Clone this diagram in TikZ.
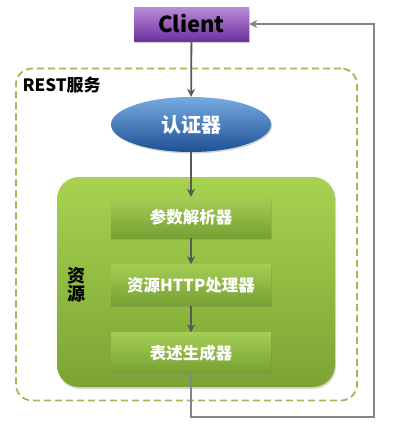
\documentclass[tikz,border=0pt]{standalone}
\usepackage{fontspec}
\setmainfont{Noto Sans CJK SC}
\usetikzlibrary{shapes.geometric,arrows.meta,shadows}
\definecolor{dgreen}{HTML}{9BBB59}
\definecolor{arrowgray}{HTML}{595959}
\definecolor{retgray}{HTML}{858585}
\tikzset{
  flowarrow/.style={draw=arrowgray, line width=1.8pt, -{Stealth[length=8pt,width=8pt]}},
  retline/.style={draw=retgray, line width=1.8pt, -{Stealth[length=8pt,width=8pt]}},
  stepbox/.style={rectangle, minimum width=160pt, minimum height=41pt, draw=none,
    top color={rgb,255:red,165;green,205;blue,85}, bottom color={rgb,255:red,118;green,160;blue,50},
    text=white, font=\bfseries\fontsize{16.5}{18}\selectfont,
    drop shadow={shadow xshift=1pt, shadow yshift=-1.5pt, opacity=0.35}},
}
\begin{document}
\begin{tikzpicture}[x=1pt,y=-1pt]
\useasboundingbox (0,0) rectangle (400,439);
% outer dashed service boundary
\node[draw=dgreen, dash pattern=on 7pt off 4pt, line width=1.8pt, rounded corners=16pt, minimum width=341pt, minimum height=332pt, inner sep=0pt] (svc) at (186.5,234.5) {};
\node[anchor=west, font=\bfseries\fontsize{17}{19}\selectfont] (svclabel) at (19,85) {REST服务};
% resource container
\node[rounded corners=22pt, minimum width=278pt, minimum height=210pt, inner sep=0pt,
  top color={rgb,255:red,168;green,210;blue,80}, bottom color={rgb,255:red,124;green,164;blue,52},
  drop shadow={shadow xshift=1pt, shadow yshift=-2pt, opacity=0.3}] (res) at (196,282) {};
\node[font=\bfseries\fontsize{18}{20}\selectfont, align=center] (reslabel) at (76,285) {资\\[-2pt]源};
% Client
\node[rectangle, minimum width=115pt, minimum height=34pt, inner sep=0pt,
  top color={rgb,255:red,185;green,140;blue,215}, bottom color={rgb,255:red,112;green,48;blue,160},
  drop shadow={shadow xshift=1pt, shadow yshift=-1.5pt, opacity=0.35},
  font=\bfseries\fontsize{22}{24}\selectfont] (client) at (191.5,24) {Client};
% authenticator
\node[ellipse, minimum width=160pt, minimum height=55pt, inner sep=0pt,
  top color={rgb,255:red,120;green,170;blue,225}, bottom color={rgb,255:red,30;green,80;blue,150},
  drop shadow={shadow xshift=1pt, shadow yshift=-1.5pt, opacity=0.35},
  text=white, font=\bfseries\fontsize{20}{22}\selectfont] (auth) at (191,124.5) {认证器};
% steps
\node[stepbox] (parse) at (191,217.5) {参数解析器};
\node[stepbox] (handler) at (191,285) {资源HTTP处理器};
\node[stepbox] (gen) at (191,353) {表述生成器};
% arrows
\draw[flowarrow] (client) -- (auth);
\draw[flowarrow] (auth) -- (parse);
\draw[flowarrow] (parse) -- (handler);
\draw[flowarrow] (handler) -- (gen);
\coordinate (c1) at (191,417);
\coordinate (c2) at (374,417);
\coordinate (c3) at (374,24);
\draw[retline] (gen.south) -- (c1) -- (c2) -- (c3) -- (client.east);
\end{tikzpicture}
\end{document}
